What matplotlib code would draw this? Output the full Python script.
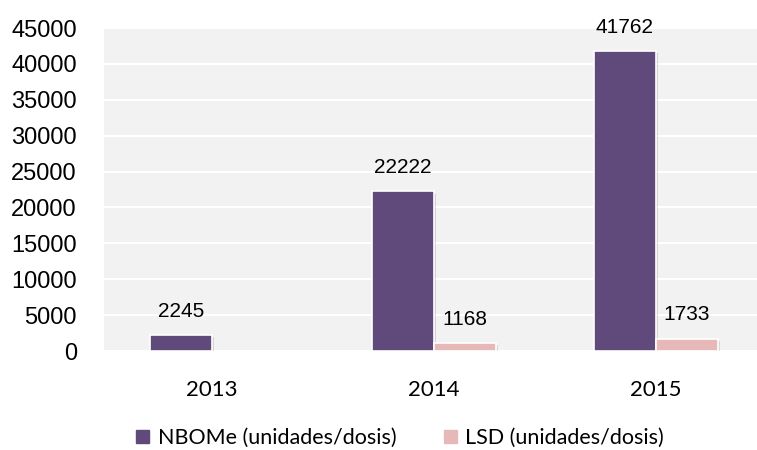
import matplotlib
matplotlib.use("Agg")
from matplotlib import pyplot as plt
from matplotlib import patheffects as pe
from matplotlib.patches import Patch
import numpy as np

# datos
years = ["2013", "2014", "2015"]
nbome = [2245, 22222, 41762]
lsd = [None, 1168, 1733]
series_names = ["NBOMe (unidades/dosis)", "LSD (unidades/dosis)"]
yticks = [0, 5000, 10000, 15000, 20000, 25000, 30000, 35000, 40000, 45000]

purple = "#604a7b"
pink = "#e6b9b8"

fig = plt.figure(figsize=(7.57, 4.5), dpi=100)
ax = fig.add_axes([104/757, 99/450, 653/757, 323/450])
ax.set_facecolor("#f2f2f2")

x = np.arange(len(years))
w = 0.28
shadow = [pe.SimplePatchShadow(offset=(1.5, -1.5), alpha=0.15), pe.Normal()]

lsd_x = [xi + w/2 for xi, v in zip(x, lsd) if v is not None]
lsd_v = [v for v in lsd if v is not None]
ax.bar(x - w/2, nbome, w, color=purple, edgecolor="white", linewidth=1.2,
       zorder=3, path_effects=shadow)
ax.bar(lsd_x, lsd_v, w, color=pink, edgecolor="white", linewidth=1.2,
       zorder=3, path_effects=shadow)

for xi, v in zip(x - w/2, nbome):
    ax.annotate(str(v), (xi, v), xytext=(0, 17), textcoords="offset points",
                ha="center", va="center", fontsize=15, family="Liberation Sans")
for xi, v in zip(lsd_x, lsd_v):
    ax.annotate(str(v), (xi, v), xytext=(0, 17), textcoords="offset points",
                ha="center", va="center", fontsize=15, family="Liberation Sans")

ax.set_ylim(0, 45000)
ax.set_yticks(yticks)
ax.set_yticklabels([str(t) for t in yticks], fontsize=17, family="Liberation Sans")
ax.set_xlim(-0.486, 2.455)
ax.set_xticks(x)
ax.set_xticklabels(years, fontsize=16, family="Lato")
ax.tick_params(axis="y", length=0, pad=19.5)
ax.tick_params(axis="x", length=0, pad=21)
ax.grid(axis="y", color="white", linewidth=1.5, zorder=1)
ax.set_axisbelow(True)
for s in ax.spines.values():
    s.set_visible(False)

handles = [Patch(color=purple), Patch(color=pink)]
fig.legend(handles=handles, labels=series_names, loc="center",
           bbox_to_anchor=(400/757, 1 - 438/450), ncol=2, frameon=False,
           prop={"family": "Lato", "size": 15.5}, handlelength=0.6, handleheight=0.6,
           handletextpad=0.4, columnspacing=2.2)

fig.savefig("out.png", dpi=100)
